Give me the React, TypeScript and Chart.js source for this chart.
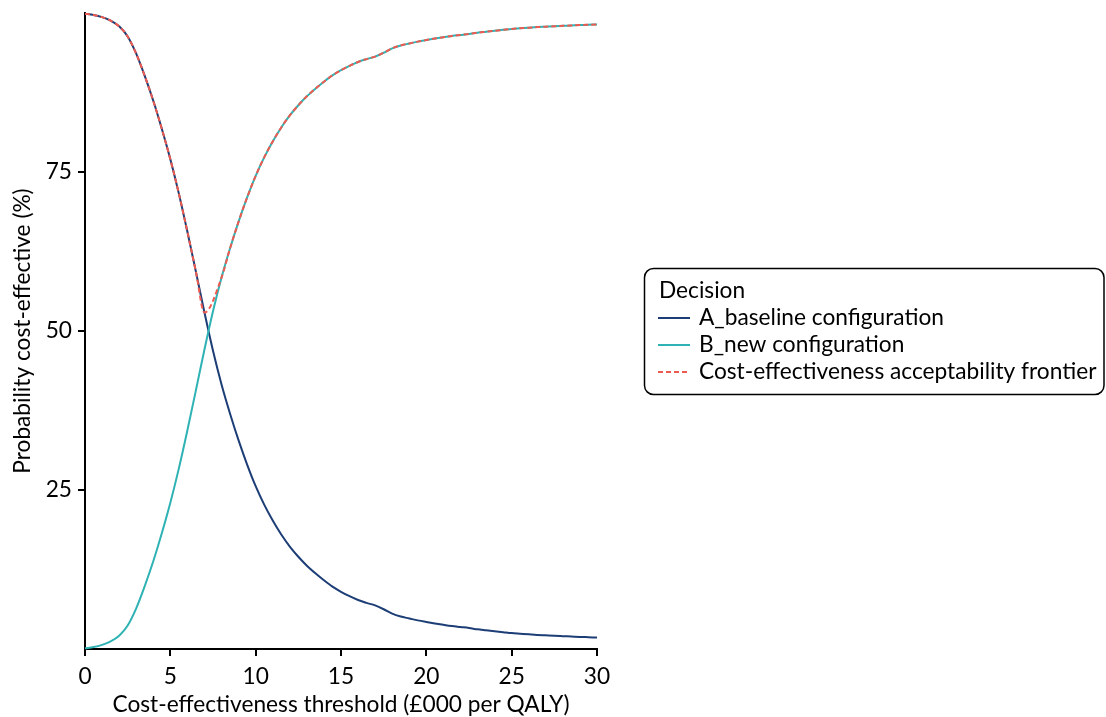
import React, { useEffect, useRef } from 'react';
import { Chart, registerables } from 'chart.js';

Chart.register(...registerables);

// Willingness-to-pay thresholds (£000 per QALY)
const thresholds = [
  0, 0.5, 1, 1.5, 2, 2.5, 3, 3.5, 4, 4.5, 5, 5.5, 6, 6.5, 7, 7.5, 8, 8.5, 9, 9.5,
  10, 10.5, 11, 11.5, 12, 12.5, 13, 13.5, 14, 14.5, 15, 15.5, 16, 16.5, 17, 17.5, 18, 18.5, 19, 19.5,
  20, 20.5, 21, 21.5, 22, 22.5, 23, 23.5, 24, 24.5, 25, 25.5, 26, 26.5, 27, 27.5, 28, 28.5, 29, 29.5, 30,
];

// Probability cost-effective (%) – A_baseline configuration
const baselineA = [
  99.9, 99.7, 99.35, 98.8, 97.9, 96.3, 93.6, 90.1, 86.2, 81.8, 77.0, 71.6, 65.6, 59.3, 52.9, 46.9, 41.6, 37.0, 32.8, 29.0,
  25.6, 22.7, 20.2, 18.0, 16.1, 14.5, 13.1, 11.9, 10.8, 9.8, 9.0, 8.3, 7.7, 7.25, 6.85, 6.25, 5.55, 5.1, 4.8, 4.5,
  4.25, 4.02, 3.8, 3.6, 3.45, 3.3, 3.1, 2.95, 2.8, 2.65, 2.5, 2.4, 2.3, 2.22, 2.15, 2.08, 2.02, 1.96, 1.9, 1.85, 1.8,
];

// Probability cost-effective (%) – B_new configuration
const newB = [
  0.1, 0.3, 0.65, 1.2, 2.1, 3.7, 6.4, 9.9, 13.8, 18.2, 23.0, 28.4, 34.4, 40.7, 47.1, 53.1, 58.4, 63.0, 67.2, 71.0,
  74.4, 77.3, 79.8, 82.0, 83.9, 85.5, 86.9, 88.1, 89.2, 90.2, 91.0, 91.7, 92.3, 92.75, 93.15, 93.75, 94.45, 94.9, 95.2, 95.5,
  95.75, 95.98, 96.2, 96.4, 96.55, 96.7, 96.9, 97.05, 97.2, 97.35, 97.5, 97.6, 97.7, 97.78, 97.85, 97.92, 97.98, 98.04, 98.1, 98.15, 98.2,
];

// Cost-effectiveness acceptability frontier (%) – null where the optimal option switches
const frontier = [
  99.9, 99.7, 99.35, 98.8, 97.9, 96.3, 93.6, 90.1, 86.2, 81.8, 77.0, 71.6, 65.6, 59.3, 52.9, null, 58.4, 63.0, 67.2, 71.0,
  74.4, 77.3, 79.8, 82.0, 83.9, 85.5, 86.9, 88.1, 89.2, 90.2, 91.0, 91.7, 92.3, 92.75, 93.15, 93.75, 94.45, 94.9, 95.2, 95.5,
  95.75, 95.98, 96.2, 96.4, 96.55, 96.7, 96.9, 97.05, 97.2, 97.35, 97.5, 97.6, 97.7, 97.78, 97.85, 97.92, 97.98, 98.04, 98.1, 98.15, 98.2,
];

const xTicks = [0, 5, 10, 15, 20, 25, 30];
const yTicks = [25, 50, 75];

const seriesNames = [
  'A_baseline configuration',
  'B_new configuration',
  'Cost-effectiveness acceptability frontier',
];
const seriesColors = ['#1c3d75', '#2eb2b4', '#ee5a4f'];
const seriesDash: number[][] = [[], [], [5, 3]];
const legendTitle = 'Decision';
const xTitle = 'Cost-effectiveness threshold (£000 per QALY)';
const yTitle = 'Probability cost-effective (%)';

const FONT = 'Lato';
const FONT_SIZE = 22.7;

const boxLegend = {
  id: 'boxLegend',
  afterDraw(chart: any) {
    const ctx = chart.ctx as CanvasRenderingContext2D;
    ctx.save();
    ctx.strokeStyle = '#000';
    ctx.lineWidth = 1.5;
    ctx.beginPath();
    (ctx as any).roundRect(644.5, 268.5, 459.5, 126, 9);
    ctx.stroke();
    ctx.fillStyle = '#000';
    ctx.font = `${FONT_SIZE}px ${FONT}`;
    ctx.textBaseline = 'middle';
    ctx.textAlign = 'left';
    ctx.fillText(legendTitle, 659, 291);
    seriesNames.forEach((name, i) => {
      const y = 318 + 27 * i;
      ctx.save();
      ctx.strokeStyle = seriesColors[i];
      ctx.lineWidth = 2;
      ctx.setLineDash(seriesDash[i]);
      ctx.beginPath();
      ctx.moveTo(658, y);
      ctx.lineTo(690, y);
      ctx.stroke();
      ctx.restore();
      ctx.fillText(name, 699, y);
    });
    ctx.restore();
  },
};

export default function App() {
  const canvasRef = useRef<HTMLCanvasElement | null>(null);

  useEffect(() => {
    document.body.style.margin = '0';
    const canvas = canvasRef.current;
    if (!canvas) return;

    const toPoints = (vals: (number | null)[]) =>
      thresholds.map((x, i) => ({ x, y: vals[i] }));

    const axisFont = { family: FONT, size: FONT_SIZE };

    const chart = new Chart(canvas, {
      type: 'line',
      data: {
        datasets: [
          {
            label: seriesNames[2],
            data: toPoints(frontier) as any,
            borderColor: seriesColors[2],
            borderWidth: 2,
            borderDash: seriesDash[2],
            pointRadius: 0,
            spanGaps: true,
            cubicInterpolationMode: 'monotone',
            order: 0,
            clip: 6,
          },
          {
            label: seriesNames[1],
            data: toPoints(newB) as any,
            borderColor: seriesColors[1],
            borderWidth: 2,
            pointRadius: 0,
            cubicInterpolationMode: 'monotone',
            order: 1,
            clip: 6,
          },
          {
            label: seriesNames[0],
            data: toPoints(baselineA) as any,
            borderColor: seriesColors[0],
            borderWidth: 2,
            pointRadius: 0,
            cubicInterpolationMode: 'monotone',
            order: 2,
            clip: 6,
          },
        ],
      },
      options: {
        responsive: false,
        animation: false,
        devicePixelRatio: 1,
        layout: { padding: { left: 0, top: 13, right: 509, bottom: 0 } },
        plugins: {
          legend: { display: false },
          tooltip: { enabled: false },
        },
        scales: {
          x: {
            type: 'linear',
            min: 0,
            max: 30,
            afterBuildTicks: (axis: any) => {
              axis.ticks = xTicks.map((v) => ({ value: v }));
            },
            afterFit: (axis: any) => {
              axis.height = 68;
            },
            ticks: {
              color: '#000',
              font: axisFont,
              padding: 7,
              maxRotation: 0,
              autoSkip: false,
            },
            grid: {
              drawOnChartArea: false,
              drawTicks: true,
              tickLength: 7,
              color: '#000',
              lineWidth: 2,
            },
            border: { display: true, color: '#000', width: 2 },
            title: {
              display: true,
              text: xTitle,
              color: '#000',
              font: axisFont,
              padding: { top: 0, bottom: -1.5 },
            },
          },
          y: {
            type: 'linear',
            min: 0,
            max: 100,
            afterBuildTicks: (axis: any) => {
              axis.ticks = yTicks.map((v) => ({ value: v }));
            },
            afterFit: (axis: any) => {
              axis.width = 85;
              axis.paddingTop = 0;
              axis.paddingBottom = 0;
            },
            ticks: {
              color: '#000',
              font: axisFont,
              padding: 6,
              autoSkip: false,
            },
            grid: {
              drawOnChartArea: false,
              drawTicks: true,
              tickLength: 7,
              color: '#000',
              lineWidth: 2,
            },
            border: { display: true, color: '#000', width: 2 },
            title: {
              display: true,
              text: yTitle,
              color: '#000',
              font: axisFont,
              padding: { top: 9.5, bottom: 0 },
            },
          },
        },
      },
      plugins: [boxLegend],
    });

    return () => {
      chart.destroy();
    };
  }, []);

  return (
    <div style={{ width: 1106, height: 717 }}>
      <canvas ref={canvasRef} width={1106} height={717} style={{ display: 'block' }} />
    </div>
  );
}
